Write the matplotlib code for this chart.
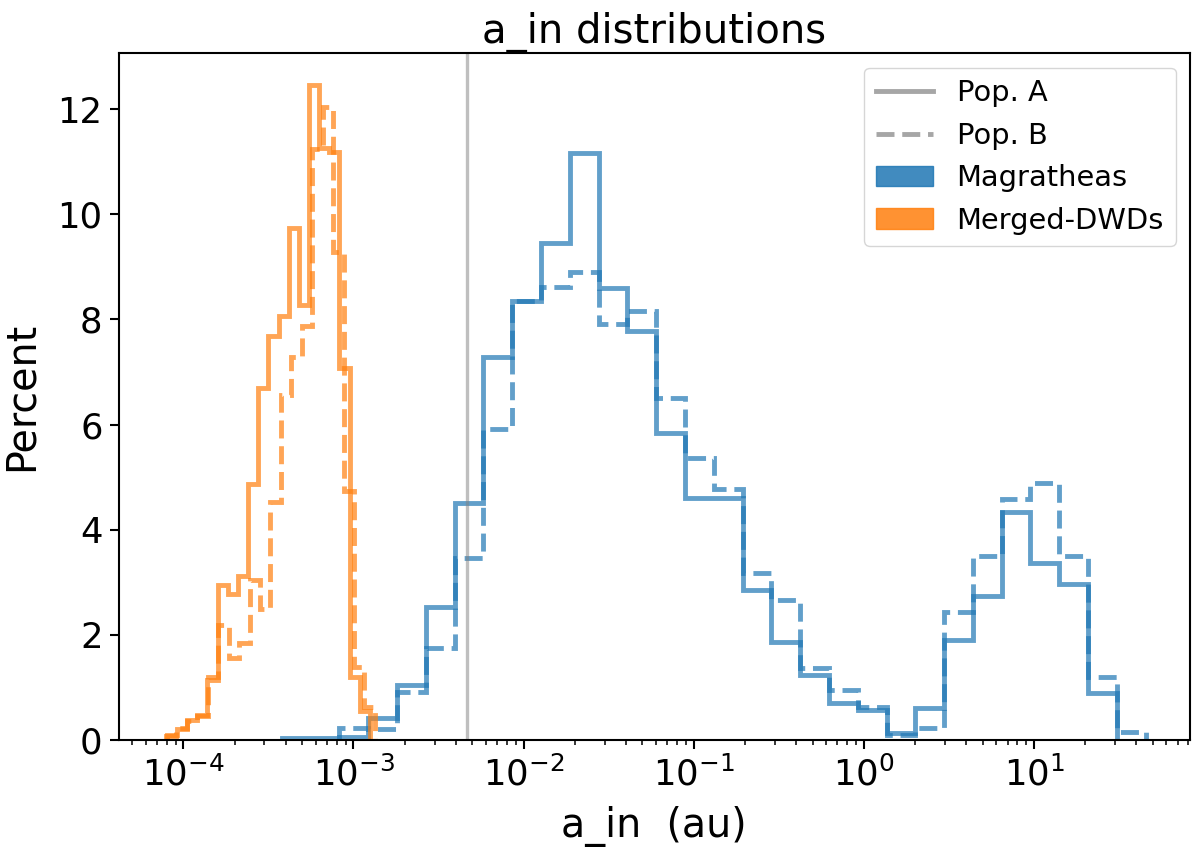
"""
a_in distributions of the two populations (Pop. A solid, Pop. B dashed)
for the Magratheas and the Merged-DWDs, as step histograms in percent.
"""
import matplotlib
matplotlib.use("Agg")
import matplotlib.pyplot as plt
import matplotlib.ticker as mticker
from matplotlib.lines import Line2D
from matplotlib.patches import Patch

# bin edges (au)
edges_dwd_a = [7.99e-5, 9.17e-5, 1.052e-4, 1.207e-4, 1.385e-4, 1.589e-4,
               1.823e-4, 2.092e-4, 2.401e-4, 2.754e-4, 3.160e-4, 3.627e-4,
               4.161e-4, 4.774e-4, 5.477e-4, 6.285e-4, 7.212e-4, 8.276e-4,
               9.495e-4, 1.0896e-3, 1.250e-3]
edges_dwd_b = [7.91e-5, 9.12e-5, 1.050e-4, 1.210e-4, 1.393e-4, 1.605e-4,
               1.849e-4, 2.130e-4, 2.453e-4, 2.825e-4, 3.254e-4, 3.749e-4,
               4.318e-4, 4.974e-4, 5.728e-4, 6.598e-4, 7.600e-4, 8.754e-4,
               1.0083e-3, 1.1614e-3, 1.3378e-3]
edges_mag = [3.80e-4, 5.61e-4, 8.28e-4, 1.223e-3, 1.806e-3, 2.666e-3,
             3.936e-3, 5.811e-3, 8.581e-3, 0.01267, 0.01870, 0.02761,
             0.04077, 0.06019, 0.08886, 0.1312, 0.1937, 0.2860, 0.4222,
             0.6233, 0.9203, 1.359, 2.006, 2.962, 4.372, 6.455, 9.530,
             14.07, 20.77, 30.67, 45.28]

# percent per bin
dwd_a = [0.09, 0.20, 0.38, 0.47, 1.15, 2.94, 2.77, 3.11, 4.86, 6.70,
         7.68, 8.06, 9.73, 8.28, 12.46, 11.26, 11.18, 7.08, 1.19, 0.55]
dwd_b = [0.08, 0.22, 0.36, 0.45, 1.20, 2.19, 1.56, 1.85, 3.04, 2.49,
         4.53, 6.57, 7.29, 7.88, 11.23, 12.04, 9.28, 4.74, 1.38, 0.62]
mag_a = [0.04, 0.03, 0.05, 0.42, 1.05, 2.53, 4.50, 7.28, 8.35, 9.46,
         11.16, 8.59, 7.77, 5.83, 4.60, 4.60, 2.85, 1.87, 1.24, 0.70,
         0.57, 0.13, 0.60, 1.90, 2.73, 4.34, 3.36, 2.97, 0.89]
mag_b = [0.23, 0.20, 0.91, 1.75, 3.47, 5.91, 8.35, 8.62, 8.90, 7.92,
         8.15, 6.50, 5.36, 4.77, 3.17, 2.66, 1.36, 0.95, 0.63, 0.10,
         0.22, 2.44, 3.50, 4.58, 4.89, 3.49, 1.20, 0.16]

a_cut = 4.67e-3
x_ticks = [1e-4, 1e-3, 1e-2, 1e-1, 1e0, 1e1]


def graficar(ax):
    lw = 3.5
    ax.hist(edges_mag[:-2], bins=edges_mag[:-1], weights=mag_a,
            histtype="step", color="C0", alpha=0.7, lw=lw)
    ax.hist(edges_mag[2:-1], bins=edges_mag[2:], weights=mag_b,
            histtype="step", color="C0", alpha=0.7, lw=lw, ls="--")
    ax.hist(edges_dwd_a[:-1], bins=edges_dwd_a, weights=dwd_a,
            histtype="step", color="C1", alpha=0.7, lw=lw)
    ax.hist(edges_dwd_b[:-1], bins=edges_dwd_b, weights=dwd_b,
            histtype="step", color="C1", alpha=0.7, lw=lw, ls="--")
    ax.axvline(a_cut, color="grey", alpha=0.5, lw=2.4)

    ax.set_xscale("log")
    ax.set_xlim(4.16e-5, 82.6)
    ax.set_ylim(0, 13.06)
    ax.xaxis.set_major_locator(mticker.FixedLocator(x_ticks))
    ax.xaxis.set_minor_formatter(mticker.NullFormatter())

    ax.set_title("a_in distributions", fontsize=29)
    ax.set_xlabel("a_in  (au)", fontsize=28.5, labelpad=10)
    ax.set_ylabel("Percent", fontsize=28.5, labelpad=11)
    ax.tick_params(which="major", labelsize=25.5, length=6.5, width=1.5, pad=5)
    ax.tick_params(which="minor", length=3.9, width=1.1)
    for s in ax.spines.values():
        s.set_linewidth(1.5)

    handles = [
        Line2D([], [], color="grey", alpha=0.7, lw=lw),
        Line2D([], [], color="grey", alpha=0.7, lw=lw, ls="--"),
        Patch(color="C0", alpha=0.85),
        Patch(color="C1", alpha=0.85),
    ]
    ax.legend(handles, ["Pop. A", "Pop. B", "Magratheas", "Merged-DWDs"],
              loc="upper right", fontsize=20.8)


if __name__ == "__main__":
    fig = plt.figure(figsize=(12, 8.55), dpi=100)
    ax = fig.add_axes([0.09875, 0.1345, 0.8929, 0.8032])
    graficar(ax)
    fig.savefig("out.png", dpi=100)
